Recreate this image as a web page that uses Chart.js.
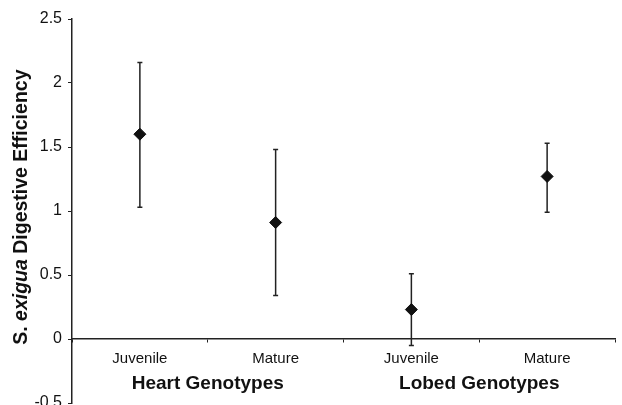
<!doctype html>
<html>
<head>
	<title>Digestive Efficiency</title>
	<script src="https://cdn.jsdelivr.net/npm/chart.js@4.4.1/dist/chart.umd.min.js"></script>
	<style>
		body { margin: 0; background: #fff; overflow: hidden; }
		/* a little taller than the window so the -0.5 label is cut like the original */
		#container { width: 622px; height: 410px; }
	</style>
</head>
<body>
	<div id="container">
		<canvas id="canvas"></canvas>
	</div>
	<script>
		// data
		var categories = ['Juvenile', 'Mature', 'Juvenile', 'Mature'];
		var groups = ['Heart Genotypes', 'Lobed Genotypes'];
		var means = [1.60, 0.91, 0.23, 1.27];
		var upper = [2.16, 1.48, 0.51, 1.53];
		var lower = [1.03, 0.34, -0.05, 0.99];
		var yTicks = { min: -0.5, max: 2.5, step: 0.5 };

		var ink = '#111';
		var font = '"Liberation Sans", Arial, sans-serif';

		// error bars, drawn under the diamonds
		var errorBars = {
			id: 'errorBars',
			beforeDatasetsDraw: function(chart) {
				var ctx = chart.ctx, xs = chart.scales.x, ys = chart.scales.y;
				ctx.save();
				ctx.strokeStyle = '#222';
				ctx.lineWidth = 1.5;
				for (var i = 0; i < means.length; i++) {
					var x = xs.getPixelForValue(i);
					var yt = ys.getPixelForValue(upper[i]);
					var yb = ys.getPixelForValue(lower[i]);
					ctx.beginPath();
					ctx.moveTo(x, yt); ctx.lineTo(x, yb);
					ctx.moveTo(x - 2.5, yt); ctx.lineTo(x + 2.5, yt);
					ctx.moveTo(x - 2.5, yb); ctx.lineTo(x + 2.5, yb);
					ctx.stroke();
				}
				ctx.restore();
			}
		};

		// group labels and the mixed-style y title
		var extraText = {
			id: 'extraText',
			afterDraw: function(chart) {
				var ctx = chart.ctx, xs = chart.scales.x, ys = chart.scales.y;
				ctx.save();
				ctx.fillStyle = ink;
				ctx.font = 'bold 19px ' + font;
				ctx.textAlign = 'center';
				ctx.textBaseline = 'middle';
				var gy = ys.getPixelForValue(0) + 45;
				ctx.fillText(groups[0], xs.getPixelForValue(0.5), gy);
				ctx.fillText(groups[1], xs.getPixelForValue(2.5), gy);

				var parts = [
					['S. ', 'bold 19.5px ' + font],
					['exigua', 'italic bold 19.5px ' + font],
					[' Digestive Efficiency', 'bold 19.5px ' + font]
				];
				var total = 0;
				parts.forEach(function(p) { ctx.font = p[1]; total += ctx.measureText(p[0]).width; });
				ctx.translate(22, ys.getPixelForValue(1.03));
				ctx.rotate(-Math.PI / 2);
				ctx.textAlign = 'left';
				var x = -total / 2;
				parts.forEach(function(p) {
					ctx.font = p[1];
					ctx.fillText(p[0], x, 0);
					x += ctx.measureText(p[0]).width;
				});
				ctx.restore();
			}
		};

		window.onload = function() {
			var ctx = document.getElementById('canvas').getContext('2d');
			window.myChart = new Chart(ctx, {
				type: 'line',
				data: {
					labels: categories,
					datasets: [{
						data: means,
						showLine: false,
						pointStyle: 'rectRot',
						pointRadius: 6,
						pointHoverRadius: 6,
						backgroundColor: ink,
						borderColor: ink,
						borderWidth: 1
					}]
				},
				options: {
					responsive: true,
					maintainAspectRatio: false,
					animation: false,
					layout: { padding: { top: 19, bottom: 3, left: 0, right: 4 } },
					plugins: {
						legend: { display: false },
						tooltip: { enabled: false }
					},
					scales: {
						x: {
							type: 'category',
							position: { y: 0 },
							offset: true,
							border: { display: true, color: '#222', width: 1.5 },
							grid: { display: true, drawOnChartArea: false, tickLength: 3, color: '#222', offset: true },
							ticks: {
								color: ink,
								padding: 8,
								maxRotation: 0,
								font: { family: font, size: 15 }
							}
						},
						y: {
							min: yTicks.min,
							max: yTicks.max,
							border: { display: true, color: '#222', width: 1.5 },
							grid: { display: true, drawOnChartArea: false, tickLength: 4, color: '#222' },
							ticks: {
								stepSize: yTicks.step,
								color: ink,
								padding: 6,
								font: { family: font, size: 16 },
								callback: function(v) { return String(v); }
							},
							afterFit: function(scale) {
								scale.width = 72;
								scale.paddingTop = 0;
								scale.paddingBottom = 0;
							}
						}
					}
				},
				plugins: [errorBars, extraText]
			});
		};
	</script>
</body>
</html>
